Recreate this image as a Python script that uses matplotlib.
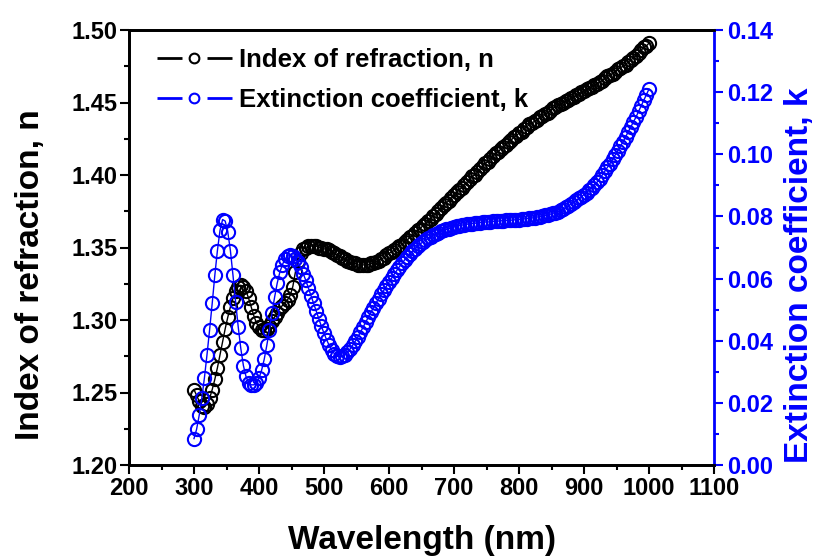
import numpy as np
import matplotlib
matplotlib.use("Agg")
import matplotlib.pyplot as plt
from matplotlib.lines import Line2D
from matplotlib.ticker import MultipleLocator, FormatStrFormatter

plt.rcParams['font.family'] = ['Liberation Sans', 'DejaVu Sans']
plt.rcParams['font.weight'] = 'bold'

# wavelength grid (nm), 4 nm steps from 300 to 1000
wavelength = np.arange(300, 1001, 4)

# index of refraction, n (left axis)
n_values = [
    1.252, 1.248, 1.244, 1.241, 1.240, 1.242, 1.246, 1.252, 1.259, 1.267,
    1.276, 1.285, 1.294, 1.302, 1.309, 1.315, 1.320, 1.323, 1.324, 1.323,
    1.320, 1.315, 1.309, 1.303, 1.298, 1.295, 1.293, 1.293, 1.294, 1.296,
    1.299, 1.302, 1.305, 1.308, 1.310, 1.312, 1.314, 1.317, 1.323, 1.333,
    1.341, 1.346, 1.349, 1.350, 1.351, 1.351, 1.351, 1.351, 1.350, 1.350,
    1.349, 1.349, 1.348, 1.347, 1.346, 1.345, 1.344, 1.343, 1.342, 1.341,
    1.340, 1.339, 1.339, 1.338, 1.338, 1.338, 1.338, 1.338, 1.339, 1.339,
    1.340, 1.341, 1.342, 1.343, 1.345,
    # 600 - 796
    1.346, 1.347, 1.348, 1.350, 1.351, 1.352, 1.354, 1.355, 1.357, 1.358,
    1.360, 1.362, 1.363, 1.365, 1.366, 1.368, 1.370, 1.372, 1.373, 1.375,
    1.377, 1.379, 1.381, 1.382, 1.384, 1.386, 1.388, 1.390, 1.391, 1.393,
    1.395, 1.397, 1.399, 1.400, 1.402, 1.404, 1.406, 1.408, 1.409, 1.411,
    1.413, 1.415, 1.416, 1.418, 1.419, 1.421, 1.423, 1.424, 1.426, 1.427,
    # 800 - 1000
    1.429, 1.430, 1.432, 1.433, 1.435, 1.436, 1.437, 1.438, 1.440, 1.441,
    1.442, 1.443, 1.444, 1.446, 1.447, 1.448, 1.449, 1.450, 1.451, 1.452,
    1.453, 1.454, 1.455, 1.456, 1.457, 1.458, 1.459, 1.460, 1.461, 1.462,
    1.463, 1.464, 1.465, 1.467, 1.468, 1.469, 1.470, 1.471, 1.473, 1.474,
    1.475, 1.476, 1.478, 1.479, 1.481, 1.482, 1.484, 1.486, 1.488, 1.489,
    1.491,
]

# extinction coefficient, k (right axis)
k_values = [
    0.0085, 0.0115, 0.0160, 0.0215, 0.0280, 0.0355, 0.0435, 0.0520, 0.0610, 0.0690,
    0.0755, 0.0790, 0.0785, 0.0750, 0.0690, 0.0610, 0.0525, 0.0445, 0.0375, 0.0320,
    0.0285, 0.0265, 0.0258, 0.0258, 0.0265, 0.0280, 0.0305, 0.0340, 0.0385, 0.0435,
    0.0490, 0.0540, 0.0585, 0.0620, 0.0645, 0.0662, 0.0672, 0.0675, 0.0672, 0.0664,
    0.0652, 0.0636, 0.0616, 0.0594, 0.0570, 0.0545, 0.0520, 0.0495, 0.0470, 0.0446,
    0.0424, 0.0403, 0.0385, 0.0370, 0.0358, 0.0350, 0.0348, 0.0350, 0.0355, 0.0363,
    0.0373, 0.0385, 0.0398, 0.0412, 0.0427, 0.0443, 0.0459, 0.0475, 0.0491, 0.0506,
    0.0521, 0.0535, 0.0549, 0.0562, 0.0575,
    # 600 - 796
    0.0588, 0.0601, 0.0614, 0.0626, 0.0638, 0.0649, 0.0660, 0.0670, 0.0679, 0.0688,
    0.0696, 0.0704, 0.0711, 0.0718, 0.0724, 0.0730, 0.0735, 0.0740, 0.0744, 0.0748,
    0.0752, 0.0755, 0.0758, 0.0761, 0.0763, 0.0766, 0.0768, 0.0770, 0.0772, 0.0773,
    0.0775, 0.0776, 0.0777, 0.0778, 0.0779, 0.0780, 0.0781, 0.0782, 0.0782, 0.0783,
    0.0784, 0.0784, 0.0785, 0.0786, 0.0786, 0.0787, 0.0787, 0.0788, 0.0789, 0.0789,
    # 800 - 1000
    0.0790, 0.0791, 0.0792, 0.0793, 0.0794, 0.0795, 0.0796, 0.0798, 0.0799, 0.0801,
    0.0803, 0.0805, 0.0807, 0.0810, 0.0812, 0.0815, 0.0820, 0.0824, 0.0829, 0.0834,
    0.0840, 0.0846, 0.0852, 0.0858, 0.0864, 0.0870, 0.0877, 0.0885, 0.0893, 0.0901,
    0.0910, 0.0921, 0.0933, 0.0945, 0.0958, 0.0970, 0.0984, 0.0998, 0.1012, 0.1026,
    0.1040, 0.1056, 0.1072, 0.1088, 0.1104, 0.1120, 0.1138, 0.1156, 0.1174, 0.1192,
    0.1210,
]

n_label = 'Index of refraction, n'
k_label = 'Extinction coefficient, k'

fig = plt.figure(figsize=(8.19, 5.59), dpi=100)
ax = fig.add_axes([129 / 819, 94 / 559, 585 / 819, 435 / 559])
ax2 = ax.twinx()

ax.plot(wavelength, n_values, '-o', color='black', mfc='none',
        ms=9.5, mew=1.5, lw=1)
ax2.plot(wavelength, k_values, '-o', color='blue', mfc='none',
         ms=9.5, mew=1.5, lw=1)

ax.set_xlim(200, 1100)
ax.set_ylim(1.20, 1.50)
ax2.set_ylim(0.0, 0.14)

ax.xaxis.set_major_locator(MultipleLocator(100))
ax.xaxis.set_minor_locator(MultipleLocator(50))
ax.yaxis.set_major_locator(MultipleLocator(0.05))
ax.yaxis.set_minor_locator(MultipleLocator(0.025))
ax.yaxis.set_major_formatter(FormatStrFormatter('%.2f'))
ax2.yaxis.set_major_locator(MultipleLocator(0.02))
ax2.yaxis.set_minor_locator(MultipleLocator(0.01))
ax2.yaxis.set_major_formatter(FormatStrFormatter('%.2f'))

for a in (ax, ax2):
    for s in a.spines.values():
        s.set_linewidth(2)
ax.spines['right'].set_visible(False)
ax2.spines['right'].set_color('blue')

ax.tick_params(axis='both', which='major', direction='out', length=6.5, width=1.5,
               labelsize=17, pad=2)
ax.tick_params(axis='both', which='minor', direction='out', length=3.5, width=1.5)
ax.tick_params(axis='x', which='both', top=False)
ax.tick_params(axis='y', which='both', right=False)
ax2.tick_params(axis='y', which='major', direction='out', length=6.5, width=1.5,
                labelsize=17, pad=3, colors='blue')
ax2.tick_params(axis='y', which='minor', direction='out', length=3.5, width=1.5,
                colors='blue')

for lab in ax.get_xticklabels() + ax.get_yticklabels() + ax2.get_yticklabels():
    lab.set_fontweight('bold')

ax.set_xlabel('Wavelength (nm)', fontsize=24, fontweight='bold')
ax.set_ylabel(n_label, fontsize=24, fontweight='bold')
ax2.set_ylabel(k_label, fontsize=24, fontweight='bold', color='blue')
ax.xaxis.set_label_coords(0.5, -0.138)
ax.yaxis.set_label_coords(-0.142, 0.437)
ax2.yaxis.set_label_coords(1.12, 0.437)

# legend handles: split line with an open circle in the middle
handles = []
for c in ('black', 'blue'):
    seg = Line2D([], [], color=c, lw=2, linestyle=(0, (9, 9)))
    mark = Line2D([], [], ls='none', marker='o', mfc='none', mec=c, ms=7, mew=1.5)
    handles.append((seg, mark))

ax2.legend(handles, [n_label, k_label], loc='upper left',
           bbox_to_anchor=(157 / 819, 1 - 48 / 559), bbox_transform=fig.transFigure,
           frameon=False, borderpad=0, borderaxespad=0,
           handlelength=2.9, handletextpad=0.3, labelspacing=0.62,
           prop={'size': 18.5, 'weight': 'bold'})

fig.savefig('out.png', dpi=100)
